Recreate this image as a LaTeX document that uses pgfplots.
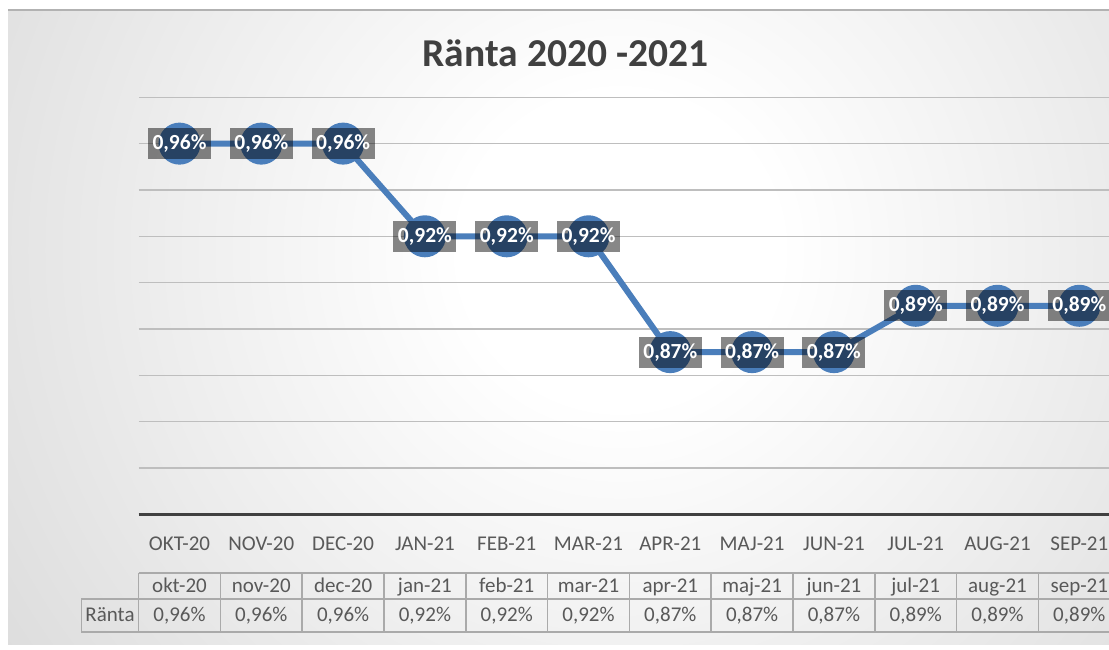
\documentclass[border=0pt]{standalone}
\usepackage{pgfplots}
\usepackage{pgfplotstable}
\pgfplotsset{compat=1.18}
\usepackage{fontspec}
\setmainfont{Carlito}
\definecolor{lineblue}{RGB}{74,126,187}
\definecolor{gridgray}{RGB}{190,190,190}
\definecolor{axisdark}{RGB}{64,64,64}
\definecolor{txtgray}{RGB}{89,89,89}
\definecolor{titlegray}{RGB}{64,64,64}
\definecolor{bordergray}{RGB}{170,170,170}
\definecolor{bgouter}{RGB}{196,196,196}
\pgfdeclareradialshading{bgshade}{\pgfpoint{0bp}{0bp}}{color(0bp)=(white); color(6bp)=(white); color(44bp)=(bgouter); color(60bp)=(bgouter)}

\pgfplotstableread{
x y lab
0 0.96 0,96
1 0.96 0,96
2 0.96 0,96
3 0.92 0,92
4 0.92 0,92
5 0.92 0,92
6 0.87 0,87
7 0.87 0,87
8 0.87 0,87
9 0.89 0,89
10 0.89 0,89
11 0.89 0,89
}\ranta

\begin{document}
\begin{tikzpicture}[x=1bp,y=1bp]
\useasboundingbox (0,0) rectangle (1109,650);
\clip (0,0) rectangle (1109,650);
\fill[white] (0,0) rectangle (1109,650);
\begin{scope}
\clip (8,5) rectangle (1115,640);
\shade[shading=bgshade] (-40,-250) rectangle (1280,1050);
\end{scope}
\draw[black!30, line width=1.5bp] (8,640) -- (1115,640);

\node[anchor=base, font=\fontsize{39.5bp}{42bp}\selectfont\bfseries, text=titlegray] at (565.5,583) {Ränta 2020 -2021};

\begin{axis}[
  at={(138.6bp,135.7bp)}, anchor=south west,
  width=981.6bp, height=417bp, scale only axis,
  xmin=-0.5, xmax=11.5, ymin=0.80, ymax=0.98,
  axis line style={draw=none},
  ytick={0.80,0.82,0.84,0.86,0.88,0.90,0.92,0.94,0.96,0.98},
  yticklabels={},
  ymajorgrids,
  major grid style={gridgray, line width=1.5bp},
  major tick length=0pt,
  xtick={0,...,11},
  xticklabels={
    {OKT-20\\[18bp]okt-20\\[5bp]0,96\%},
    {NOV-20\\[18bp]nov-20\\[5bp]0,96\%},
    {DEC-20\\[18bp]dec-20\\[5bp]0,96\%},
    {JAN-21\\[18bp]jan-21\\[5bp]0,92\%},
    {FEB-21\\[18bp]feb-21\\[5bp]0,92\%},
    {MAR-21\\[18bp]mar-21\\[5bp]0,92\%},
    {APR-21\\[18bp]apr-21\\[5bp]0,87\%},
    {MAJ-21\\[18bp]maj-21\\[5bp]0,87\%},
    {JUN-21\\[18bp]jun-21\\[5bp]0,87\%},
    {JUL-21\\[18bp]jul-21\\[5bp]0,89\%},
    {AUG-21\\[18bp]aug-21\\[5bp]0,89\%},
    {SEP-21\\[18bp]sep-21\\[5bp]0,89\%}},
  xticklabel style={font=\fontsize{21bp}{24bp}\selectfont, text=txtgray, align=center, inner sep=0pt, anchor=north, yshift=-22.5bp},
  clip=false,
]
\draw[axisdark, line width=3bp] (axis cs:-0.5,0.80) -- (axis cs:11.5,0.80);
\addplot[lineblue, line width=6bp, mark=*, mark size=18bp,
  mark options={fill=lineblue, draw=none},
  nodes near coords={\pgfplotspointmeta\%},
  point meta=explicit symbolic,
  every node near coord/.append style={anchor=center, fill=black, fill opacity=0.47, text opacity=1, text=white,
    font=\fontsize{21.5bp}{24bp}\selectfont\bfseries, minimum width=63bp, minimum height=31bp, inner sep=0pt}]
  table[x=x, y=y, meta=lab] {\ranta};
\end{axis}

\begin{scope}[bordergray, line width=1.5bp]
\draw (138.6,77) -- (1115,77);
\draw (81.4,51) -- (1115,51);
\draw (81.4,18) -- (1115,18);
\draw (81.4,18) -- (81.4,51);
\foreach \k in {0,...,12} {\draw ({138.6+81.8*\k},18) -- ({138.6+81.8*\k},77);}
\end{scope}
\node[font=\fontsize{21bp}{24bp}\selectfont, text=txtgray] at (110,35) {Ränta};
\end{tikzpicture}
\end{document}
